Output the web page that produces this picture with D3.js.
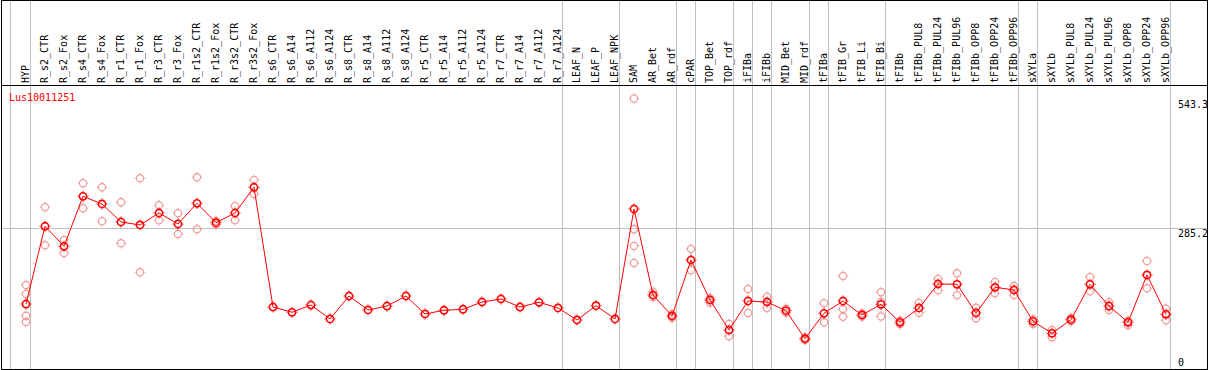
<!DOCTYPE html>
<html>
<head>
<meta charset="utf-8">
<script src="https://cdn.jsdelivr.net/npm/d3@7"></script>
<style>
  html, body { margin: 0; padding: 0; background: #fff; }
  svg { display: block; }
  text { font-family: "DejaVu Sans Mono", "Liberation Mono", monospace; font-size: 10px; }
</style>
</head>
<body>
<svg id="chart" width="1209" height="370"></svg>
<script>
const geneLabel = "Lus10011251";

const categories = [
  "HYP","R_s2_CTR","R_s2_Fox","R_s4_CTR","R_s4_Fox","R_r1_CTR","R_r1_Fox","R_r3_CTR","R_r3_Fox",
  "R_r1s2_CTR","R_r1s2_Fox","R_r3s2_CTR","R_r3s2_Fox","R_s6_CTR","R_s6_A14","R_s6_A112","R_s6_A124",
  "R_s8_CTR","R_s8_A14","R_s8_A112","R_s8_A124","R_r5_CTR","R_r5_A14","R_r5_A112","R_r5_A124",
  "R_r7_CTR","R_r7_A14","R_r7_A112","R_r7_A124","LEAF_N","LEAF_P","LEAF_NPK","SAM","AR_Bet","AR_rdf",
  "cPAR","TOP_Bet","TOP_rdf","iFIBa","iFIBb","MID_Bet","MID_rdf","tFIBa","tFIB_Gr","tFIB_Li","tFIB_Bi",
  "tFIBb","tFIBb_PUL8","tFIBb_PUL24","tFIBb_PUL96","tFIBb_OPP8","tFIBb_OPP24","tFIBb_OPP96",
  "sXYLa","sXYLb","sXYLb_PUL8","sXYLb_PUL24","sXYLb_PUL96","sXYLb_OPP8","sXYLb_OPP24","sXYLb_OPP96"
];

const meanValues = [
  132.8, 288.1, 248.1, 348.0, 332.6, 296.6, 290.7, 314.6, 292.6,
  334.0, 295.2, 314.6, 366.0, 126.8, 116.3, 130.8, 102.9,
  148.8, 120.9, 128.8, 148.8, 112.9, 120.3, 122.3, 136.8,
  142.8, 126.8, 136.2, 124.9, 100.9, 129.4, 102.9, 322.6, 150.8, 108.9,
  220.7, 140.8, 80.9, 138.8, 136.8, 119.5, 63.5, 114.3, 138.8, 110.9, 132.2,
  96.3, 124.9, 172.8, 172.2, 114.9, 166.2, 160.8,
  98.3, 74.3, 101.5, 172.2, 128.8, 96.3, 190.8, 112.3
];

const replicateValues = [
  [170.8,152.8,109.5,96.9], [326.0,250.1], [260.7,234.7], [374.0,324.0], [366.0,298.0],
  [336.0,254.1], [383.9,196.2], [330.0,300.0], [314.0,272.7],
  [385.9,282.1], [298.6,291.8], [328.6,300.0], [380.5,352.6],
  [], [], [], [],
  [], [], [], [],
  [], [], [], [],
  [], [], [], [],
  [], [], [],
  [543.3,282.1,248.7,214.7], [156.8,146.8], [112.3,105.5],
  [242.7,200.2], [144.2,135.4], [92.9,68.3], [162.8,114.9], [147.4,124.9],
  [123.5,115.5], [65.9,60.9], [134.2,96.3], [188.8,122.9,107.5], [113.9,107.9], [156.4,137.4,107.9],
  [99.5,92.3], [134.8,115.5], [182.8,160.2], [194.2,150.2], [125.4,104.3], [176.8,154.2], [168.8,150.8],
  [102.3,92.9], [80.9,66.3], [104.9,98.3], [186.8,158.2], [136.2,120.9], [99.5,90.3], [218.7,164.2], [123.5,100.3]
];

const tickValues = [543.3, 285.2, 0];
const gridValues = [285.2];
const groupEnds = ["HYP","R_r7_A124","LEAF_NPK","AR_rdf","cPAR","TOP_rdf","iFIBa","iFIBb",
                   "MID_rdf","tFIBa","tFIB_Bi","tFIBb_OPP96","sXYLa","sXYLb_OPP96"];

const W = 1209, H = 370;
const headerBottom = 85.5;
const svg = d3.select("#chart");

const x = d3.scalePoint().domain(categories).range([26, 1166]);
const y = d3.scaleLinear().domain([0, 543.3]).range([370.5, 98.5]);

const grey = "#c0c0c0";
const red = "#ff0000";
const pink = "#f09a9a";

// vertical separators
svg.append("line").attr("x1", 10.5).attr("x2", 10.5).attr("y1", 0).attr("y2", H)
  .attr("stroke", grey).attr("stroke-width", 1);
svg.selectAll("line.sep").data(groupEnds).enter().append("line")
  .attr("class", "sep")
  .attr("x1", d => Math.round(x(d) + 4) + 0.5)
  .attr("x2", d => Math.round(x(d) + 4) + 0.5)
  .attr("y1", 0).attr("y2", H)
  .attr("stroke", grey).attr("stroke-width", 1);

// horizontal grid
svg.selectAll("line.grid").data(gridValues).enter().append("line")
  .attr("class", "grid")
  .attr("x1", 1).attr("x2", 1207)
  .attr("y1", d => Math.round(y(d)) + 0.5)
  .attr("y2", d => Math.round(y(d)) + 0.5)
  .attr("stroke", grey).attr("stroke-width", 1);

// borders
svg.append("rect").attr("x", 1.5).attr("y", 0.5).attr("width", 1206).attr("height", 369)
  .attr("fill", "none").attr("stroke", "#000").attr("stroke-width", 1);
svg.append("line").attr("x1", 1).attr("x2", 1208).attr("y1", headerBottom).attr("y2", headerBottom)
  .attr("stroke", "#000").attr("stroke-width", 1);

// header labels
svg.selectAll("text.cat").data(categories).enter().append("text")
  .attr("class", "cat")
  .attr("transform", d => `translate(${x(d) + 3},83) rotate(-90)`)
  .attr("text-anchor", "start")
  .attr("fill", "#000")
  .text(d => d);

// gene label
svg.append("text").attr("x", 9).attr("y", 100.5).attr("fill", red).text(geneLabel);

// y tick labels
svg.selectAll("text.tick").data(tickValues).enter().append("text")
  .attr("class", "tick")
  .attr("x", 1178)
  .attr("y", d => d === 0 ? 365.5 : Math.round(y(d)) + 9)
  .attr("fill", "#000")
  .text(d => d);

// marker drawing helper: circle with tiny outward ticks
function marker(g, r, color, sw) {
  g.append("circle").attr("r", r).attr("fill", "none").attr("stroke", color).attr("stroke-width", sw);
  const a = r + sw / 2, t = a + 1.1;
  [[0, -a, 0, -t], [0, a, 0, t], [-a, 0, -t, 0], [a, 0, t, 0]].forEach(s => {
    g.append("line").attr("x1", s[0]).attr("y1", s[1]).attr("x2", s[2]).attr("y2", s[3])
      .attr("stroke", color).attr("stroke-width", 1);
  });
}

// replicates
const reps = [];
categories.forEach((c, i) => replicateValues[i].forEach(v => reps.push({c, v})));
svg.selectAll("g.rep").data(reps).enter().append("g")
  .attr("class", "rep")
  .attr("transform", d => `translate(${x(d.c)},${y(d.v)})`)
  .each(function() { marker(d3.select(this), 3.6, pink, 1.2); });

// mean line
const pts = categories.map((c, i) => ({c, v: meanValues[i]}));
svg.append("path")
  .attr("d", d3.line().x(d => x(d.c)).y(d => y(d.v))(pts))
  .attr("fill", "none").attr("stroke", red).attr("stroke-width", 1);

svg.selectAll("g.mean").data(pts).enter().append("g")
  .attr("class", "mean")
  .attr("transform", d => `translate(${x(d.c)},${y(d.v)})`)
  .each(function() { marker(d3.select(this), 3.6, red, 1.6); });
</script>
</body>
</html>
